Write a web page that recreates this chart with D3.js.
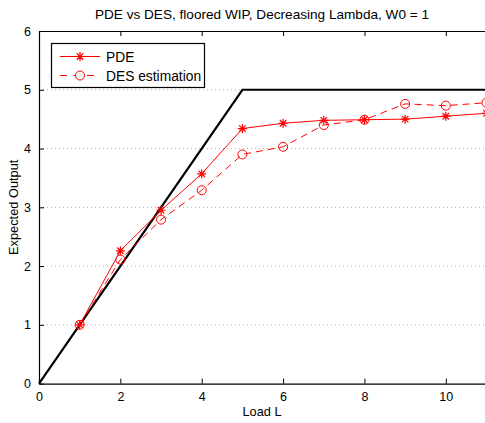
<!DOCTYPE html>
<html>
<head>
<meta charset="utf-8">
<script src="https://cdn.jsdelivr.net/npm/d3@7"></script>
<style>
  body { margin: 0; background: #fff; }
  text { font-family: "Liberation Sans", Arial, Helvetica, sans-serif; }
</style>
</head>
<body>
<div id="chart"></div>
<script>
// data
const loads = [1, 2, 3, 4, 5, 6, 7, 8, 9, 10, 11]
const pdeValues = [1, 2.26, 2.95, 3.57, 4.34, 4.43, 4.48, 4.49, 4.50, 4.55, 4.60]
const desValues = [1, 2.11, 2.79, 3.29, 3.90, 4.03, 4.40, 4.49, 4.76, 4.73, 4.78]
const boundX = [0, 5, 11]
const boundY = [0, 5, 5]
const xTicks = [0, 2, 4, 6, 8, 10]
const yTicks = [0, 1, 2, 3, 4, 5, 6]

const width = 485
const height = 423
const margin = { left: 39, top: 31, right: 0, bottom: 40 }

const svg = d3.select('#chart')
  .append('svg')
  .attr('width', width)
  .attr('height', height)

const x = d3.scaleLinear().domain([0, 11]).range([margin.left, 486.5])
const y = d3.scaleLinear().domain([0, 6]).range([383.6, margin.top])

// dotted horizontal grid
svg.append('g')
  .selectAll('line')
  .data(yTicks.filter((d) => d > 0 && d < 6))
  .enter()
  .append('line')
  .attr('x1', x(0))
  .attr('x2', x(11))
  .attr('y1', (d) => y(d))
  .attr('y2', (d) => y(d))
  .attr('stroke', '#b0b0b0')
  .attr('stroke-width', 1)
  .attr('stroke-dasharray', '1,3')

// axes with inward ticks (matlab box)
const fmt = d3.format('d')
const xAxis = svg.append('g')
  .attr('transform', `translate(0,${y(0)})`)
  .call(d3.axisBottom(x).tickValues(xTicks).tickSizeInner(-5).tickSizeOuter(0).tickPadding(9).tickFormat(fmt))
const xAxisTop = svg.append('g')
  .attr('transform', `translate(0,${y(6)})`)
  .call(d3.axisTop(x).tickValues(xTicks).tickSizeInner(-5).tickSizeOuter(0).tickFormat(''))
const yAxis = svg.append('g')
  .attr('transform', `translate(${x(0)},0)`)
  .call(d3.axisLeft(y).tickValues(yTicks).tickSizeInner(-5).tickSizeOuter(0).tickPadding(8).tickFormat(fmt))

;[xAxis, xAxisTop, yAxis].forEach((g) => {
  g.select('.domain').attr('stroke', '#000').attr('stroke-width', 1.2)
  g.selectAll('.tick line').attr('stroke', '#000')
  g.selectAll('.tick text')
    .attr('fill', '#000')
    .style('font-size', '12.5px')
})
xAxis.selectAll('.tick text').attr('dy', '0.71em')

// upper bound (thick black)
const line = d3.line().x((d) => x(d[0])).y((d) => y(d[1]))
svg.append('path')
  .datum(d3.zip(boundX, boundY))
  .attr('d', line)
  .attr('fill', 'none')
  .attr('stroke', '#000')
  .attr('stroke-width', 2.2)

const red = '#ff0000'

// DES dashed
svg.append('path')
  .datum(d3.zip(loads, desValues))
  .attr('d', line)
  .attr('fill', 'none')
  .attr('stroke', red)
  .attr('stroke-width', 1)
  .attr('stroke-dasharray', '7,5')

svg.append('g')
  .selectAll('circle')
  .data(d3.zip(loads, desValues))
  .enter()
  .append('circle')
  .attr('cx', (d) => x(d[0]))
  .attr('cy', (d) => y(d[1]))
  .attr('r', 4.5)
  .attr('fill', 'none')
  .attr('stroke', red)
  .attr('stroke-width', 1)

// PDE solid
svg.append('path')
  .datum(d3.zip(loads, pdeValues))
  .attr('d', line)
  .attr('fill', 'none')
  .attr('stroke', red)
  .attr('stroke-width', 1)

function starPath (r) {
  const a = r * 0.72
  return `M${-r},0L${r},0M0,${-r}L0,${r}M${-a},${-a}L${a},${a}M${-a},${a}L${a},${-a}`
}

svg.append('g')
  .selectAll('path')
  .data(d3.zip(loads, pdeValues))
  .enter()
  .append('path')
  .attr('transform', (d) => `translate(${x(d[0])},${y(d[1])})`)
  .attr('d', starPath(4.5))
  .attr('stroke', red)
  .attr('stroke-width', 1.2)

// legend
const legend = svg.append('g')
legend.append('rect')
  .attr('x', 51.5)
  .attr('y', 43.5)
  .attr('width', 153)
  .attr('height', 44)
  .attr('fill', '#fff')
  .attr('stroke', '#000')
  .attr('stroke-width', 1.2)

legend.append('line')
  .attr('x1', 60).attr('x2', 100).attr('y1', 56.5).attr('y2', 56.5)
  .attr('stroke', red)
legend.append('path')
  .attr('transform', 'translate(80,56.5)')
  .attr('d', starPath(4.5))
  .attr('stroke', red)
  .attr('stroke-width', 1.2)
legend.append('text')
  .attr('x', 106).attr('y', 61.5)
  .style('font-size', '13.8px')
  .text('PDE')

legend.append('line')
  .attr('x1', 60).attr('x2', 100).attr('y1', 75.5).attr('y2', 75.5)
  .attr('stroke', red)
  .attr('stroke-dasharray', '7,6.5')
legend.append('circle')
  .attr('cx', 80).attr('cy', 75.5).attr('r', 4.5)
  .attr('fill', '#fff')
  .attr('stroke', red)
legend.append('text')
  .attr('x', 106).attr('y', 80.5)
  .style('font-size', '13.8px')
  .text('DES estimation')

// titles
svg.append('text')
  .attr('x', 262)
  .attr('y', 19)
  .attr('text-anchor', 'middle')
  .style('font-size', '13.6px')
  .text('PDE vs DES, floored WIP, Decreasing Lambda, W0 = 1')

svg.append('text')
  .attr('x', 262)
  .attr('y', 416)
  .attr('text-anchor', 'middle')
  .style('font-size', '12.8px')
  .text('Load L')

svg.append('text')
  .attr('transform', `translate(18,${(y(0) + y(6)) / 2}) rotate(-90)`)
  .attr('text-anchor', 'middle')
  .style('font-size', '12.8px')
  .text('Expected Output')
</script>
</body>
</html>
